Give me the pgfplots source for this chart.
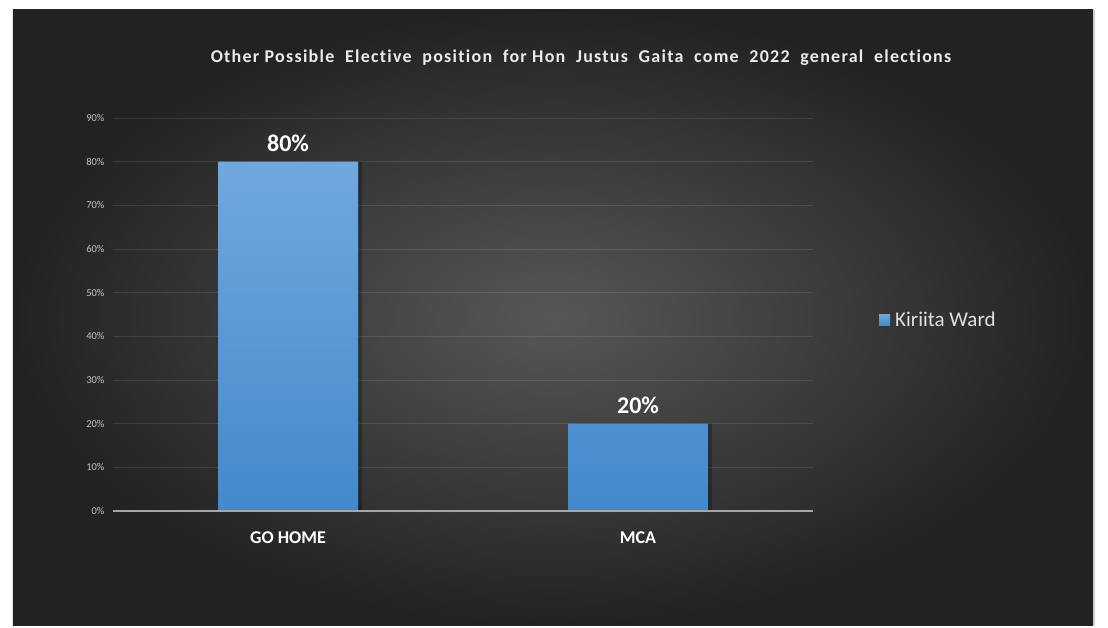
\documentclass[border=0pt]{standalone}
\usepackage{pgfplots}
\pgfplotsset{compat=1.18}
\usepackage{fontspec}
\setmainfont[Ligatures={NoCommon}]{Carlito}
\definecolor{bgin}{HTML}{575757}
\definecolor{bgout}{HTML}{222222}
\definecolor{bartop}{HTML}{70A8DE}
\definecolor{barbot}{HTML}{4389CB}
\definecolor{ticklab}{HTML}{C4C4C4}
\begin{document}
\begin{tikzpicture}[x=1pt,y=1pt]
% white page and dark panel (pixel -> (px-113, 511-py))
\fill[white] (-113,-116) rectangle (995,511);
\shade[inner color=bgin, outer color=bgout] (-100,-114) rectangle (980,501);
\fill[gray!40] (980,-114) rectangle (982,501);
\begin{axis}[
  at={(0,0)}, anchor=south west,
  scale only axis, width=700pt, height=393pt,
  xmin=-0.5, xmax=1.5, ymin=0, ymax=90,
  axis line style={draw=none},
  xtick={0,1}, xticklabels={GO HOME, MCA},
  xticklabel style={font=\bfseries\fontsize{18}{20}\selectfont, text=white, yshift=-17pt},
  ytick={0,10,...,90},
  yticklabel={\pgfmathprintnumber{\tick}\%},
  yticklabel style={font=\fontsize{10.5}{12}\selectfont, text=ticklab, xshift=-5pt},
  /pgf/number format/assume math mode=true,
  major tick length=0pt,
  ymajorgrids, grid style={draw=white, opacity=0.1, line width=1pt},
  ybar, bar width=140pt,
  legend style={at={(1.09,0.487)}, anchor=west, draw=none, fill=none,
    font=\fontsize{21}{24}\selectfont, text=white!88!black},
  legend image code/.code={\fill[bartop] (0pt,-5.5pt) rectangle (11pt,5.5pt);},
]
\addplot[forget plot, bar shift=4pt, fill=black, fill opacity=0.25, draw=none]
  coordinates {(0,80) (1,20)};
\addplot[bar shift=0pt, draw=none, top color=bartop, bottom color=barbot,
  nodes near coords={\pgfmathprintnumber{\pgfplotspointmeta}\%},
  nodes near coords style={font=\bfseries\fontsize{24}{26}\selectfont, text=white, yshift=6pt},
  point meta=y]
  coordinates {(0,80) (1,20)};
\addlegendentry{\hspace{3pt}Kiriita Ward}
\draw[line width=1.3pt, draw=gray!70] (rel axis cs:0,0) -- (rel axis cs:1,0);
\end{axis}
\node[text=white!92!black, font=\bfseries\fontsize{18}{20}\selectfont\addfontfeatures{LetterSpace=7}] at (468,453) {Other Possible\ \ Elective\ \ position\ \ for Hon\ \ Justus\ \ Gaita\ \ come\ \ 2022\ \ general\ \ elections};
\end{tikzpicture}
\end{document}
